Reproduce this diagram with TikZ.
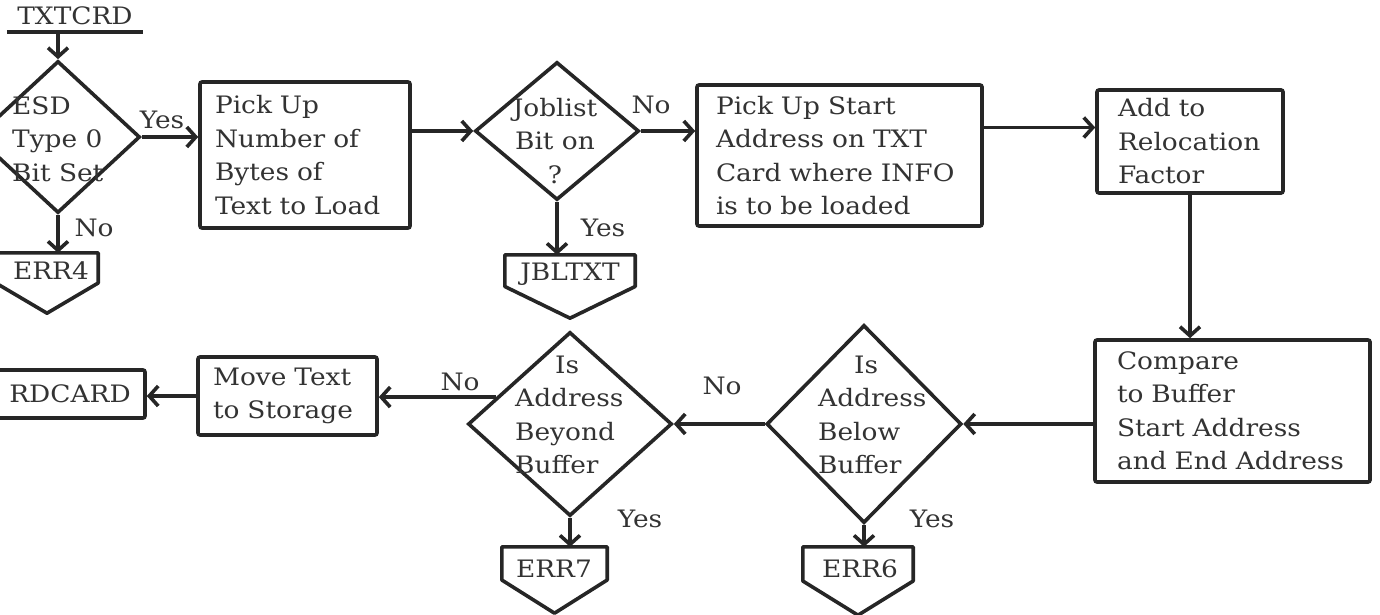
\documentclass[tikz,border=0pt]{standalone}
\usepackage{fontspec}
\setmainfont{DejaVu Serif}[FakeStretch=1.1]
\usetikzlibrary{arrows.meta,calc,shapes.geometric}
\newcommand\offpg[1]{\draw[ln] (#1.north west) -- (#1.north east) -- ($(#1.north east)!0.5!(#1.south east)$) -- (#1.south) -- ($(#1.north west)!0.5!(#1.south west)$) -- cycle;}
\begin{document}
\begin{tikzpicture}[x=1pt,y=-1pt,
  every node/.style={font=\fontsize{24}{33.5}\selectfont, text=black!80},
  ln/.style={line width=3.6pt, draw=black!85, line join=round},
  arr/.style={ln, -{Straight Barb[length=9pt,width=20pt]}},
  boxn/.style={draw=black!85, line width=3.6pt, rounded corners=2pt, align=left, inner ysep=0pt},
  dia/.style={diamond, draw=black!85, line width=3.6pt, inner sep=0pt},
  txt/.style={inner sep=0pt, align=left},
  lbl/.style={inner sep=0pt},
  offp/.style={draw=none, inner sep=0pt}]
\useasboundingbox (0,0) rectangle (1380,615);
% start terminal
\node[inner sep=0pt, minimum width=136, minimum height=32] (t0) at (75,16) {TXTCRD};
\draw[ln] (t0.south west) -- (t0.south east);
% first row
\node[dia, minimum width=164, minimum height=152] (d1) at (58,137) {};
\node[txt, anchor=west] (d1t) at (12,139) {ESD\\Type 0\\Bit Set};
\node[boxn, minimum width=210, minimum height=146, inner xsep=15pt, text width=180pt] (b2) at (305,155) {Pick Up\\Number of\\Bytes of\\Text to Load};
\node[dia, minimum width=164, minimum height=138] (d2) at (557,131) {};
\node[txt, align=center] (d2t) at (555,141) {Joblist\\Bit on\\?};
\node[boxn, minimum width=285, minimum height=141, inner xsep=19pt, text width=247pt] (b3) at (839.5,155.5) {Pick Up Start\\Address on TXT\\Card where INFO\\is to be loaded};
\node[boxn, minimum width=186, minimum height=103, inner xsep=21pt, text width=144pt] (b4) at (1190,141.5) {Add to\\Relocation\\Factor};
% off-page connectors, top row
\node[offp, minimum width=102, minimum height=60] (e4) at (47,283) {};
\offpg{e4}
\node[lbl] (e4t) at (51,271) {ERR4};
\node[offp, minimum width=130, minimum height=63] (jb) at (570,286.5) {};
\offpg{jb}
\node[lbl] (jbt) at (570,274) {JBLTXT};
% second row
\node[boxn, minimum width=275, minimum height=142, inner xsep=22pt, text width=231pt] (b5) at (1232.5,411) {Compare\\to Buffer\\Start Address\\and End Address};
\node[dia, minimum width=195, minimum height=198] (d3) at (864,424) {};
\node[txt, anchor=west] (d3t) at (818,415) {\hspace*{36pt}Is\\Address\\Below\\Buffer};
\node[dia, minimum width=204, minimum height=184] (d4) at (570,424) {};
\node[txt, anchor=west] (d4t) at (515,415) {\hspace*{40pt}Is\\Address\\Beyond\\Buffer};
\node[boxn, minimum width=179, minimum height=78, inner xsep=15pt, text width=149pt] (b6) at (287.5,396) {Move Text\\to Storage};
\node[boxn, minimum width=160, minimum height=48, inner xsep=0pt] (rd) at (65,394) {\hspace*{10pt}RDCARD};
\node[offp, minimum width=105, minimum height=66] (e7) at (554.5,580) {};
\offpg{e7}
\node[lbl] (e7t) at (554,569) {ERR7};
\node[offp, minimum width=110, minimum height=68] (e6) at (858,581) {};
\offpg{e6}
\node[lbl] (e6t) at (860,569) {ERR6};
% labels
\node[lbl] (l1) at (162,120) {Yes};
\node[lbl] (l2) at (94,228) {No};
\node[lbl] (l3) at (651,105) {No};
\node[lbl] (l4) at (603,228) {Yes};
\node[lbl] (l5) at (722,386) {No};
\node[lbl] (l6) at (460,382) {No};
\node[lbl] (l7) at (640,519) {Yes};
\node[lbl] (l8) at (932,519) {Yes};
% connectors
\draw[arr] (d1.north |- t0.south) -- (d1.north);
\draw[arr] (d1.east) -- (d1.east -| b2.west);
\draw[arr] (d1.south) -- (d1.south |- e4.north);
\draw[arr] (b2.east |- d2.west) -- (d2.west);
\draw[arr] (d2.east) -- (d2.east -| b3.west);
\draw[arr] (d2.south) -- (d2.south |- jb.north);
\coordinate (a4) at ([yshift=14pt]b4.west);
\draw[arr] (b3.east |- a4) -- (a4);
\draw[arr] (b4.south) -- (b4.south |- b5.north);
\draw[arr] (b5.west |- d3.east) -- (d3.east);
\draw[arr] (d3.west) -- (d4.east);
\draw[arr] (d4.160) -- (d4.160 -| b6.east);
\draw[arr] (b6.west) -- (b6.west -| rd.east);
\draw[arr] (d4.south) -- (d4.south |- e7.north);
\draw[arr] (d3.south) -- (d3.south |- e6.north);
\end{tikzpicture}
\end{document}
